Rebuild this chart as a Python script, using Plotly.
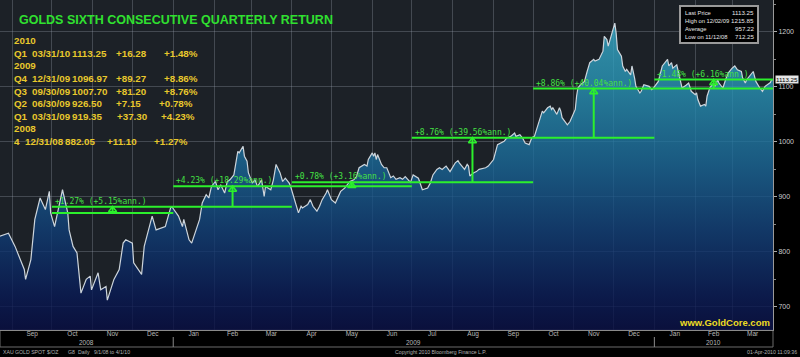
import plotly.graph_objects as go
import pandas as pd

# ---------------- data ----------------
dates = [
    "2008-08-22", "2008-08-29", "2008-09-03", "2008-09-05", "2008-09-10", "2008-09-11", "2008-09-15",
    "2008-09-18", "2008-09-22", "2008-09-26", "2008-09-29", "2008-09-30", "2008-10-03", "2008-10-09",
    "2008-10-13", "2008-10-14", "2008-10-17", "2008-10-20", "2008-10-23", "2008-10-27", "2008-10-30",
    "2008-10-31", "2008-11-05", "2008-11-07", "2008-11-11", "2008-11-12", "2008-11-17", "2008-11-21",
    "2008-11-24", "2008-11-26", "2008-12-01", "2008-12-02", "2008-12-08", "2008-12-10", "2008-12-15",
    "2008-12-16", "2008-12-19", "2008-12-23", "2008-12-26", "2008-12-30", "2008-12-31",
    "2009-01-05", "2009-01-08", "2009-01-09", "2009-01-13", "2009-01-15", "2009-01-19", "2009-01-21",
    "2009-01-23", "2009-01-26", "2009-01-28", "2009-01-30", "2009-02-02", "2009-02-04", "2009-02-06",
    "2009-02-09", "2009-02-11", "2009-02-13", "2009-02-16", "2009-02-18", "2009-02-19", "2009-02-20",
    "2009-02-23", "2009-02-24", "2009-02-26", "2009-02-27", "2009-03-02", "2009-03-04", "2009-03-06",
    "2009-03-09", "2009-03-11", "2009-03-12", "2009-03-16", "2009-03-18", "2009-03-20", "2009-03-23",
    "2009-03-25", "2009-03-27", "2009-03-30", "2009-03-31", "2009-04-03", "2009-04-06", "2009-04-08",
    "2009-04-09", "2009-04-13", "2009-04-15", "2009-04-17", "2009-04-20", "2009-04-22", "2009-04-24",
    "2009-04-27", "2009-04-28", "2009-04-30", "2009-05-01", "2009-05-04", "2009-05-06", "2009-05-08",
    "2009-05-11", "2009-05-13", "2009-05-15", "2009-05-18", "2009-05-20", "2009-05-22", "2009-05-26",
    "2009-05-28", "2009-05-29", "2009-06-01", "2009-06-02", "2009-06-03", "2009-06-04", "2009-06-05",
    "2009-06-08", "2009-06-10", "2009-06-12", "2009-06-15", "2009-06-17", "2009-06-19", "2009-06-22",
    "2009-06-24", "2009-06-26", "2009-06-30", "2009-07-02", "2009-07-06", "2009-07-07", "2009-07-09",
    "2009-07-13", "2009-07-15", "2009-07-17", "2009-07-20", "2009-07-22", "2009-07-24", "2009-07-27",
    "2009-07-30", "2009-07-31", "2009-08-03", "2009-08-05", "2009-08-06", "2009-08-10", "2009-08-12",
    "2009-08-13", "2009-08-14", "2009-08-17", "2009-08-19", "2009-08-21", "2009-08-26", "2009-08-28",
    "2009-09-01", "2009-09-03", "2009-09-04", "2009-09-09", "2009-09-11", "2009-09-14", "2009-09-17",
    "2009-09-18", "2009-09-21", "2009-09-23", "2009-09-25", "2009-09-28", "2009-09-30", "2009-10-02",
    "2009-10-05", "2009-10-07", "2009-10-08", "2009-10-09", "2009-10-12", "2009-10-14", "2009-10-15",
    "2009-10-16", "2009-10-19", "2009-10-21", "2009-10-22", "2009-10-23", "2009-10-27", "2009-10-29",
    "2009-11-02", "2009-11-03", "2009-11-04", "2009-11-06", "2009-11-09", "2009-11-11", "2009-11-13",
    "2009-11-16", "2009-11-17", "2009-11-20", "2009-11-23", "2009-11-24", "2009-11-26", "2009-11-27",
    "2009-12-01", "2009-12-02", "2009-12-03", "2009-12-04", "2009-12-07", "2009-12-08", "2009-12-10",
    "2009-12-11", "2009-12-14", "2009-12-15", "2009-12-17", "2009-12-18", "2009-12-21", "2009-12-22",
    "2009-12-24", "2009-12-28", "2009-12-30", "2009-12-31",
    "2010-01-04", "2010-01-06", "2010-01-07", "2010-01-11", "2010-01-12", "2010-01-14", "2010-01-15",
    "2010-01-18", "2010-01-20", "2010-01-22", "2010-01-25", "2010-01-27", "2010-01-29", "2010-02-01",
    "2010-02-02", "2010-02-03", "2010-02-05", "2010-02-08", "2010-02-09", "2010-02-10", "2010-02-12",
    "2010-02-15", "2010-02-16", "2010-02-18", "2010-02-19", "2010-02-22", "2010-02-24", "2010-02-26",
    "2010-03-01", "2010-03-03", "2010-03-05", "2010-03-08", "2010-03-09", "2010-03-11", "2010-03-12",
    "2010-03-15", "2010-03-17", "2010-03-18", "2010-03-19", "2010-03-22", "2010-03-24", "2010-03-26",
    "2010-03-29", "2010-03-30", "2010-03-31", "2010-04-01",
]
prices = [
    828, 834, 810, 798, 768, 750, 786,
    859, 898, 877, 910, 870.95, 846, 913,
    871, 840, 810, 798, 725, 750, 756,
    731, 762, 731, 737, 712.25, 750, 768,
    816, 822, 816, 780, 759, 810, 853,
    865, 840, 844, 846, 880, 882.05,
    865, 846, 859, 822, 816, 846, 859,
    889, 904, 898, 919, 928, 913, 922,
    907, 928, 931, 940, 974, 983, 980,
    992, 974, 965, 944, 925, 931, 919,
    931, 901, 919, 913, 931, 959, 944,
    928, 934, 925, 919.35, 895, 871, 883,
    880, 886, 895, 883, 874, 883, 895,
    907, 913, 901, 895, 889, 901, 910,
    916, 922, 928, 931, 937, 953, 959,
    956, 968, 980, 974, 980, 968, 977,
    959, 953, 953, 935, 938, 932, 935,
    932, 937, 926.50, 940, 934, 928, 913,
    916, 925, 940, 950, 953, 950, 956,
    946, 950, 962, 966, 962, 950, 959,
    956, 938, 944, 946, 950, 953, 956,
    968, 986, 995, 1001, 1007, 1010, 1016,
    1010, 1013, 1007, 998, 995, 1007.70, 1010,
    1031, 1046, 1056, 1053, 1062, 1065, 1059,
    1062, 1050, 1062, 1056, 1044, 1031, 1037,
    1059, 1083, 1098, 1104, 1110, 1128, 1144,
    1150, 1147, 1150, 1165, 1192, 1186, 1174,
    1204, 1215.85, 1198, 1168, 1156, 1138, 1128,
    1132, 1122, 1138, 1116, 1101, 1089, 1092,
    1104, 1101, 1095, 1096.97,
    1110, 1128, 1138, 1150, 1138, 1144, 1134,
    1140, 1119, 1098, 1103, 1107, 1092, 1086,
    1089, 1077, 1065, 1068, 1065, 1083, 1098,
    1107, 1101, 1113, 1107, 1098, 1113, 1125,
    1134, 1138, 1131, 1128, 1116, 1107, 1113,
    1122, 1128, 1119, 1110, 1098, 1092, 1101,
    1107, 1108, 1113.25, 1113.25,
]

quarter_names = ["4", "Q1", "Q2", "Q3", "Q4", "Q1"]
quarter_years = ["2008", "2009", "2009", "2009", "2009", "2010"]
quarter_bounds = ["2008-10-01", "2009-01-01", "2009-04-01", "2009-07-01",
                  "2009-10-01", "2010-01-01", "2010-04-01"]
quarter_end_dates = ["12/31/08", "03/31/09", "06/30/09", "09/30/09", "12/31/09", "03/31/10"]
quarter_close = [882.05, 919.35, 926.50, 1007.70, 1096.97, 1113.25]
quarter_change = [11.10, 37.30, 7.15, 81.20, 89.27, 16.28]
quarter_pct = [1.27, 4.23, 0.78, 8.76, 8.86, 1.48]
quarter_ann = [5.15, 18.29, 3.16, 39.56, 40.04, 6.16]

stat_labels = ["Last Price", "High on 12/02/09", "Average", "Low on 11/12/08"]
stat_values = [1113.25, 1215.85, 957.22, 712.25]

year_labels = ["2008", "2009", "2010"]

footer_left = ["XAU", "GOLD SPOT", "$/OZ", "G8", "Daily", "9/1/08 to 4/1/10"]

# ---------------- layout helpers ----------------
W, H = 800, 357
ML, MR, MT, MB = 0, 27, 0, 27
PW, PH = W - ML - MR, H - MT - MB
X_RANGE = ["2008-08-22 14:00", "2010-04-01"]
Y_RANGE = [658, 1258]


def px(x):
    return (x - ML) / PW


def py(y):
    return 1 - (y - MT) / PH


GREEN = "#2cf02c"
GREEN_TXT = "#44e044"
YELLOW = "#e8c82c"
MONO = "DejaVu Sans Mono"
SANS = "Liberation Sans, Arial, sans-serif"

fig = go.Figure()

fig.add_trace(go.Scatter(
    x=dates, y=prices, mode="lines",
    line=dict(color="#cdd5dc", width=1.2),
    fill="tozeroy",
    fillgradient=dict(
        type="vertical", start=Y_RANGE[0], stop=Y_RANGE[1],
        colorscale=[
            [0.0, "rgba(5,11,66,0.78)"],
            [0.1, "rgba(7,24,84,0.78)"],
            [0.3, "rgba(15,62,120,0.78)"],
            [0.5, "rgba(25,104,153,0.78)"],
            [0.75, "rgba(41,152,186,0.78)"],
            [1.0, "rgba(64,183,212,0.78)"],
        ],
    ),
    hoverinfo="skip", showlegend=False,
))

shapes = []
annotations = []

# quarterly return markers
base0 = quarter_close[0] - quarter_change[0]
shapes.append(dict(type="line", xref="x", yref="y", x0=quarter_bounds[0], x1=quarter_bounds[1],
                   y0=base0, y1=base0, line=dict(color=GREEN, width=2)))
tri_x, tri_y = [], []
n = len(quarter_close)
for i in range(n):
    start = quarter_bounds[i]
    stop = quarter_bounds[min(i + 2, n)]
    c = quarter_close[i]
    shapes.append(dict(type="line", xref="x", yref="y", x0=start, x1=stop, y0=c, y1=c,
                       line=dict(color=GREEN, width=2)))
    prev = c - quarter_change[i]
    mid = pd.Timestamp(quarter_bounds[i]) + (pd.Timestamp(quarter_bounds[i + 1]) - pd.Timestamp(quarter_bounds[i])) / 2
    shapes.append(dict(type="line", xref="x", yref="y", x0=mid, x1=mid, y0=prev, y1=c,
                       line=dict(color=GREEN, width=2)))
    tri_x.append(mid)
    tri_y.append(c - 6)
    annotations.append(dict(
        xref="x", yref="y", x=start, y=c, xanchor="left", yanchor="bottom", showarrow=False,
        text=f"+{quarter_pct[i]:.2f}% (+{quarter_ann[i]:.2f}%ann.)",
        font=dict(family=MONO, size=8, color=GREEN_TXT), xshift=1, yshift=-1,
    ))

fig.add_trace(go.Scatter(
    x=tri_x, y=tri_y, mode="markers",
    marker=dict(symbol="triangle-up-open", size=7, color=GREEN, line=dict(color=GREEN, width=1.6)),
    hoverinfo="skip", showlegend=False,
))

# title
annotations.append(dict(xref="paper", yref="paper", x=px(17), y=py(20), xanchor="left", yanchor="middle",
                        showarrow=False, text="<b>GOLDS SIXTH CONSECUTIVE QUARTERLY RETURN</b>",
                        font=dict(family=SANS, size=12.5, color="#30e030")))

# yellow table
row_order = [("hdr", "2010"), ("q", 5), ("hdr", "2009"), ("q", 4), ("q", 3), ("q", 2), ("q", 1),
             ("hdr", "2008"), ("q", 0)]
row_y = [40.7, 53.3, 65.7, 78.3, 91.0, 103.7, 116.3, 128.7, 141.7]
col_x = {5: (11.7, 30, 70, 114, 161.7), 4: (11.7, 30, 70, 114, 161.7), 3: (11.7, 30, 70, 114, 161.7),
         2: (11.7, 30, 70, 114, 156.7), 1: (11.7, 30, 70, 115, 159.3), 0: (11.7, 23.3, 63.3, 105, 152.3)}
for (kind, val), yy in zip(row_order, row_y):
    if kind == "hdr":
        pieces = [(11.7, val)]
    else:
        i = val
        cx = col_x[i]
        pieces = [
            (cx[0], quarter_names[i]),
            (cx[1], quarter_end_dates[i]),
            (cx[2], f"{quarter_close[i]:.2f}"),
            (cx[3], f"+{quarter_change[i]:.2f}"),
            (cx[4], f"+{quarter_pct[i]:.2f}%"),
        ]
    for xx, t in pieces:
        annotations.append(dict(xref="paper", yref="paper", x=px(xx), y=py(yy), xanchor="left",
                                yanchor="middle", showarrow=False, text=f"<b>{t}</b>",
                                font=dict(family=SANS, size=9.8, color=YELLOW)))

# stats box
shapes.append(dict(type="rect", xref="paper", yref="paper", x0=px(680), x1=px(758), y0=py(43), y1=py(6),
                   fillcolor="#000000", line=dict(color="#9a9a9a", width=2), layer="above"))
for k, (lab, v) in enumerate(zip(stat_labels, stat_values)):
    yy = 12.7 + 8 * k
    annotations.append(dict(xref="paper", yref="paper", x=px(683), y=py(yy), xanchor="left", yanchor="middle",
                            showarrow=False, text=lab, font=dict(family=SANS, size=5.8, color="#e6e6e6")))
    annotations.append(dict(xref="paper", yref="paper", x=px(756), y=py(yy), xanchor="right", yanchor="middle",
                            showarrow=False, text=f"{v:.2f}", font=dict(family=SANS, size=6.2, color="#e6e6e6")))

# last price tag
annotations.append(dict(xref="paper", yref="y", x=1, y=stat_values[0], xanchor="left", yanchor="middle",
                        showarrow=False, text=f"{stat_values[0]:.2f}", xshift=2,
                        font=dict(family=SANS, size=6.2, color="#000000"), bgcolor="#e6e6e6", borderpad=0))

# website
annotations.append(dict(xref="paper", yref="paper", x=px(772), y=py(322.5), xanchor="right", yanchor="middle",
                        showarrow=False, text="<b>www.GoldCore.com</b>",
                        font=dict(family=SANS, size=9.5, color="#eedc22")))

# year labels below the month labels
r0, r1 = pd.Timestamp(X_RANGE[0]), pd.Timestamp(X_RANGE[1])
for yl in year_labels:
    a = max(r0, pd.Timestamp(f"{yl}-01-01"))
    b = min(r1, pd.Timestamp(f"{int(yl) + 1}-01-01"))
    annotations.append(dict(xref="x", yref="paper", x=a + (b - a) / 2, y=py(342.3), xanchor="center",
                            yanchor="middle", showarrow=False, text=yl,
                            font=dict(family=SANS, size=6.5, color="#b8b8b8")))
    if pd.Timestamp(f"{yl}-01-01") > r0:
        shapes.append(dict(type="line", xref="x", yref="paper", x0=f"{yl}-01-01", x1=f"{yl}-01-01",
                           y0=py(337), y1=py(347), line=dict(color="#8a8a8a", width=1)))

# axis strip frame
shapes.append(dict(type="rect", xref="paper", yref="paper", x0=0, x1=1, y0=py(347), y1=0,
                   line=dict(color="#6a6a6a", width=1), layer="below"))

# footer
foot = dict(family=SANS, size=5.2, color="#b0b0b0")
for xx, t in zip([1, 13, 45, 66, 76, 92], footer_left):
    annotations.append(dict(xref="paper", yref="paper", x=px(xx), y=py(351.7), xanchor="left",
                            yanchor="middle", showarrow=False, text=t, font=foot))
annotations.append(dict(xref="paper", yref="paper", x=px(441), y=py(351.7), xanchor="center", yanchor="middle",
                        showarrow=False, text="Copyright 2010 Bloomberg Finance L.P.", font=foot))
annotations.append(dict(xref="paper", yref="paper", x=px(799), y=py(351.7), xanchor="right", yanchor="middle",
                        showarrow=False, text="01-Apr-2010 11:09:36", font=foot))

fig.update_layout(
    width=W, height=H,
    margin=dict(l=ML, r=MR, t=MT, b=MB),
    paper_bgcolor="#000000",
    plot_bgcolor="#1c2127",
    showlegend=False,
    shapes=shapes,
    annotations=annotations,
    xaxis=dict(
        type="date", range=X_RANGE, dtick="M1", tick0="2008-09-01",
        ticklabelmode="period", tickformat="%b", ticklabelstandoff=-3,
        tickfont=dict(family=SANS, size=6.5, color="#b8b8b8"),
        showgrid=True, gridcolor="rgba(150,160,172,0.32)", gridwidth=1,
        ticks="", showline=True, linecolor="#8a8a8a", linewidth=1,
        zeroline=False, fixedrange=True,
    ),
    yaxis=dict(
        range=Y_RANGE, side="right", tick0=0, dtick=100,
        tickfont=dict(family=SANS, size=7, color="#cccccc"),
        ticks="outside", ticklen=3, tickcolor="#aaaaaa",
        minor=dict(dtick=50, ticks="outside", ticklen=2, tickcolor="#888888", showgrid=False),
        showgrid=True, gridcolor="rgba(150,160,172,0.32)", gridwidth=1,
        showline=True, linecolor="#9a9a9a", linewidth=1, zeroline=False, fixedrange=True,
    ),
)

fig.write_html(
    "out.html",
    config={"displayModeBar": False, "staticPlot": True},
    post_script="document.body.style.margin='0';document.body.style.padding='0';"
                "document.documentElement.style.overflow='hidden';",
)
